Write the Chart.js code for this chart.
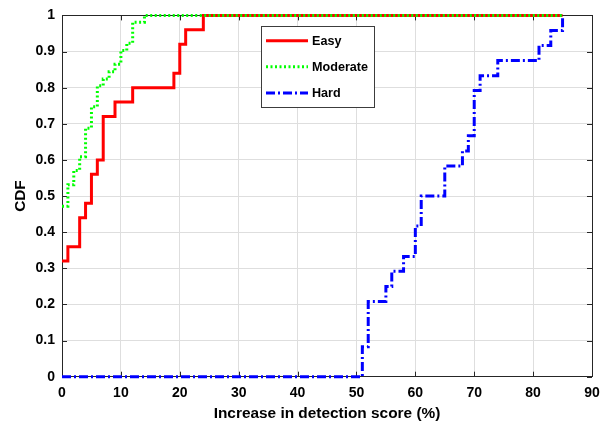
<!DOCTYPE html>
<html>
<head>
<meta charset="utf-8">
<script src="https://cdn.jsdelivr.net/npm/chart.js@4"></script>
<style>
	body { margin: 0; background: #fff; }
	#wrap { width: 615px; height: 429px; position: relative; }
</style>
</head>
<body>
<div id="wrap"><canvas id="cdfChart"></canvas></div>
<script>
const easyX = [0, 1, 3, 4, 5, 6, 7, 9, 12, 19, 20, 21, 24, 85];
const easyY = [0.32, 0.36, 0.44, 0.48, 0.56, 0.60, 0.72, 0.76, 0.80, 0.84, 0.92, 0.96, 1, 1];
const moderateX = [0, 1, 2, 3, 4, 5, 6, 7, 8, 9, 10, 11, 12, 14, 85];
const moderateY = [0.472, 0.531, 0.571, 0.609, 0.688, 0.747, 0.805, 0.824, 0.844, 0.865, 0.903, 0.923, 0.981, 1, 1];
const hardX = [0, 51, 52, 55, 56, 58, 60, 61, 65, 68, 69, 70, 71, 74, 81, 83, 85];
const hardY = [0, 0.083, 0.208, 0.25, 0.292, 0.333, 0.417, 0.5, 0.583, 0.625, 0.667, 0.792, 0.833, 0.875, 0.917, 0.958, 1];

const seriesNames = ['Easy', 'Moderate', 'Hard'];
const xTitle = 'Increase in detection score (%)';
const yTitle = 'CDF';

const FONT = "'Liberation Sans', Arial, Helvetica, sans-serif";
const AXIS_COLOR = '#262626';

const toPoints = (xs, ys) => xs.map((x, i) => ({ x: x, y: ys[i] }));

// box around the axes with inward tick marks (matlab style)
const boxPlugin = {
	id: 'axesBox',
	beforeDatasetsDraw(chart) {
		const { ctx, chartArea: a, scales } = chart;
		ctx.save();
		ctx.strokeStyle = AXIS_COLOR;
		ctx.lineWidth = 1;
		ctx.strokeRect(Math.round(a.left) + 0.5, Math.round(a.top) + 0.5,
			Math.round(a.right - a.left), Math.round(a.bottom - a.top));
		const tl = 5;
		ctx.beginPath();
		scales.x.ticks.forEach(t => {
			const px = Math.round(scales.x.getPixelForValue(t.value)) + 0.5;
			ctx.moveTo(px, a.bottom); ctx.lineTo(px, a.bottom - tl);
			ctx.moveTo(px, a.top); ctx.lineTo(px, a.top + tl);
		});
		scales.y.ticks.forEach(t => {
			const py = Math.round(scales.y.getPixelForValue(t.value)) + 0.5;
			ctx.moveTo(a.left, py); ctx.lineTo(a.left + tl, py);
			ctx.moveTo(a.right, py); ctx.lineTo(a.right - tl, py);
		});
		ctx.stroke();
		ctx.restore();
	}
};

// legend box drawn inside the plot
const legendPlugin = {
	id: 'boxLegend',
	afterDraw(chart) {
		const { ctx } = chart;
		const bx = 261, by = 26, bw = 113, bh = 81;
		ctx.save();
		ctx.fillStyle = '#fff';
		ctx.fillRect(bx, by, bw, bh);
		ctx.strokeStyle = '#3c3c3c';
		ctx.lineWidth = 1;
		ctx.strokeRect(bx + 0.5, by + 0.5, bw, bh);
		const rows = [40.7, 66.7, 93];
		chart.data.datasets.forEach((ds, i) => {
			ctx.beginPath();
			ctx.strokeStyle = ds.borderColor;
			ctx.lineWidth = ds.borderWidth;
			ctx.setLineDash(ds.borderDash || []);
			ctx.moveTo(266, rows[i]);
			ctx.lineTo(308, rows[i]);
			ctx.stroke();
			ctx.setLineDash([]);
			ctx.fillStyle = '#000';
			ctx.font = 'bold 12.6px ' + FONT;
			ctx.textBaseline = 'middle';
			ctx.textAlign = 'left';
			ctx.fillText(ds.label, 312, rows[i] + 0.5);
		});
		ctx.restore();
	}
};

new Chart(document.getElementById('cdfChart').getContext('2d'), {
	type: 'line',
	data: {
		datasets: [
			{
				label: seriesNames[0],
				data: toPoints(easyX, easyY),
				borderColor: '#ff0000',
				borderWidth: 3,
				stepped: true,
				pointRadius: 0,
				fill: false,
				clip: 6,
				order: 3
			},
			{
				label: seriesNames[1],
				data: toPoints(moderateX, moderateY),
				borderColor: '#00ff00',
				borderWidth: 3,
				borderDash: [2, 2.5],
				stepped: true,
				pointRadius: 0,
				fill: false,
				clip: 6,
				order: 2
			},
			{
				label: seriesNames[2],
				data: toPoints(hardX, hardY),
				borderColor: '#0000ff',
				borderWidth: 3,
				borderDash: [9, 3, 2, 3],
				stepped: true,
				pointRadius: 0,
				fill: false,
				clip: 6,
				order: 1
			}
		]
	},
	options: {
		responsive: true,
		maintainAspectRatio: false,
		animation: false,
		layout: { padding: { top: 5, right: 23, left: 0, bottom: 0 } },
		plugins: {
			legend: { display: false },
			tooltip: { enabled: false }
		},
		scales: {
			x: {
				type: 'linear',
				min: 0,
				max: 90,
				ticks: {
					stepSize: 10,
					color: '#000',
					padding: 8,
					maxRotation: 0,
					font: { family: FONT, size: 14, weight: 'bold' }
				},
				grid: { color: '#dedede', drawTicks: false },
				border: { display: false },
				title: {
					display: true,
					text: xTitle,
					color: '#000',
					font: { family: FONT, size: 15.4, weight: 'bold' },
					padding: { top: 0, bottom: 6.5 }
				},
				afterFit(scale) { scale.height = 52.3; }
			},
			y: {
				type: 'linear',
				min: 0,
				max: 1,
				ticks: {
					stepSize: 0.1,
					color: '#000',
					padding: 7,
					font: { family: FONT, size: 14, weight: 'bold' },
					callback: v => String(Math.round(v * 10) / 10)
				},
				grid: { color: '#dedede', drawTicks: false },
				border: { display: false },
				title: {
					display: true,
					text: yTitle,
					color: '#000',
					font: { family: FONT, size: 15.4, weight: 'bold' },
					padding: { top: 12, bottom: 0 }
				},
				afterFit(scale) { scale.width = 62; }
			}
		}
	},
	plugins: [boxPlugin, legendPlugin]
});
</script>
</body>
</html>
